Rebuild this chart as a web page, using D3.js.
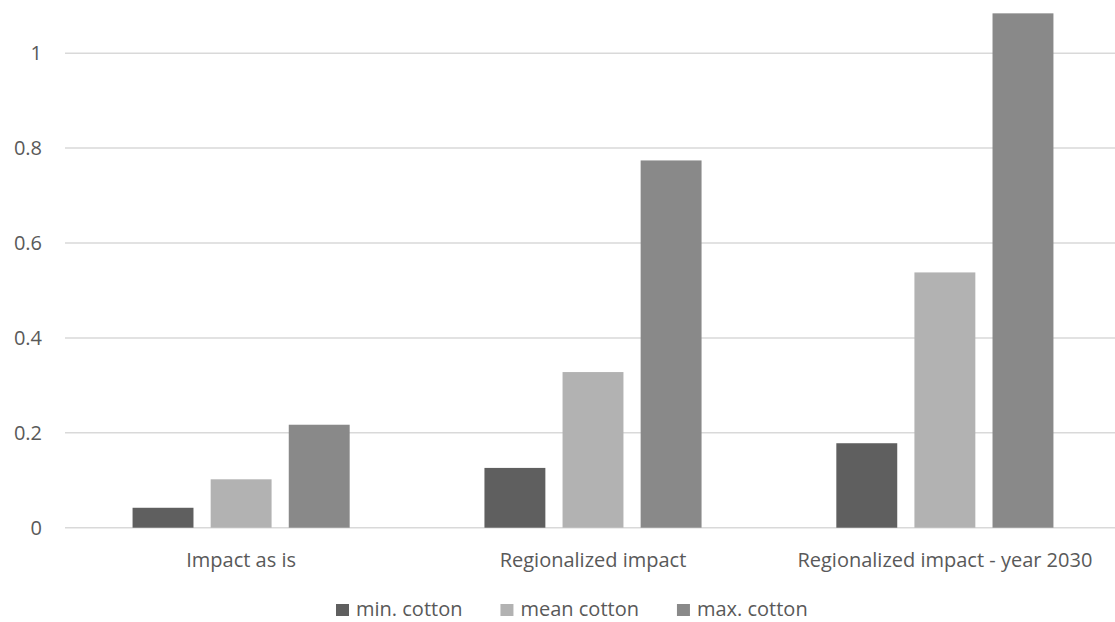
<!DOCTYPE html>
<html>
<head>
<meta charset="utf-8">
<script src="https://cdn.jsdelivr.net/npm/d3@7"></script>
<style>
  html, body { margin: 0; padding: 0; background: #fff; }
  svg { display: block; }
  text { font-family: "Open Sans", "Noto Sans", sans-serif; fill: #595959; }
</style>
</head>
<body>
<svg id="chart" width="1115" height="622"></svg>
<script>
// Scenario categories along the x axis
const categories = ["Impact as is", "Regionalized impact", "Regionalized impact - year 2030"];
// Series names and their values per category
const seriesNames = ["min. cotton", "mean cotton", "max. cotton"];
const minCotton  = [0.042, 0.126, 0.178];
const meanCotton = [0.102, 0.328, 0.538];
const maxCotton  = [0.217, 0.774, 1.084];
const yTicks = [0, 0.2, 0.4, 0.6, 0.8, 1];
const colors = ["#5f5f5f", "#b2b2b2", "#898989"];

const seriesValues = [minCotton, meanCotton, maxCotton];
const rows = categories.map((c, i) => ({
  category: c,
  values: seriesNames.map((s, j) => ({ series: s, value: seriesValues[j][i], idx: j }))
}));

const FONT = "'Open Sans', 'Noto Sans', sans-serif";
const svg = d3.select("#chart");
const plotLeft = 65, plotRight = 1121;   // plot area runs slightly past the canvas edge

const x = d3.scaleBand()
  .domain(categories)
  .range([plotLeft, plotRight])
  .paddingInner(0.383)
  .paddingOuter(0.192);

const x1 = d3.scaleBand()
  .domain(seriesNames)
  .range([0, x.bandwidth()])
  .paddingInner(0.22);

const y = d3.scaleLinear().domain([0, 1]).range([527.7, 53.2]);

// horizontal gridlines
svg.append("g")
  .selectAll("line")
  .data(yTicks)
  .join("line")
  .attr("x1", plotLeft)
  .attr("x2", plotRight)
  .attr("y1", d => y(d))
  .attr("y2", d => y(d))
  .attr("stroke", "#d9d9d9")
  .attr("stroke-width", 1.5);

// value axis labels
const yAxis = d3.axisLeft(y).tickValues(yTicks).tickFormat(d3.format("~g")).tickSize(0).tickPadding(0);
const gy = svg.append("g").attr("transform", "translate(42,0)").call(yAxis);
gy.select(".domain").remove();
gy.selectAll("text").attr("font-size", 20).attr("fill", "#595959").style("font-family", FONT);

// clustered bars
const groups = svg.append("g")
  .selectAll("g")
  .data(rows)
  .join("g")
  .attr("transform", d => `translate(${x(d.category)},0)`);

groups.selectAll("rect")
  .data(d => d.values)
  .join("rect")
  .attr("x", d => x1(d.series))
  .attr("width", x1.bandwidth())
  .attr("y", d => y(d.value))
  .attr("height", d => y(0) - y(d.value))
  .attr("fill", d => colors[d.idx]);

// category axis labels
const xAxis = d3.axisBottom(x).tickSize(0).tickPadding(0);
const gx = svg.append("g").attr("transform", "translate(0,567)").call(xAxis);
gx.select(".domain").remove();
gx.selectAll("text").attr("font-size", 20).attr("fill", "#595959")
  .attr("y", 0).attr("dy", 0).style("font-family", FONT);

// legend: swatch + label, laid out left to right
const legend = svg.append("g").attr("transform", "translate(336,0)");
let cursor = 0;
seriesNames.forEach((name, i) => {
  const item = legend.append("g").attr("transform", `translate(${cursor},0)`);
  item.append("rect").attr("x", 0).attr("y", 604).attr("width", 13).attr("height", 12).attr("fill", colors[i]);
  const t = item.append("text").attr("x", 20).attr("y", 616).attr("font-size", 20)
    .style("font-family", FONT).text(name);
  cursor += 20 + t.node().getComputedTextLength() + 38;
});
</script>
</body>
</html>
